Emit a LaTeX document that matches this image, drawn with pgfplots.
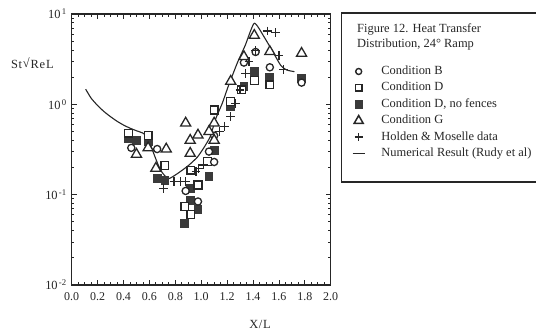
\documentclass[border=0pt]{standalone}
\usepackage{pgfplots}
\pgfplotsset{compat=1.18}
\usepackage{fontspec}
\setmainfont{Liberation Serif}

\definecolor{ink}{HTML}{262626}
\definecolor{solidgray}{HTML}{3A3A3A}

\pgfplotsset{
  markimg/.style={legend image code/.code={%
      \path (-6bp,0bp) (6bp,0bp);
      \draw[##1,only marks] plot coordinates {(0bp,0bp)};}},
  lineimg/.style={legend image code/.code={%
      \path (-6bp,0bp) (6bp,0bp);
      \draw[##1] (-6bp,0bp) -- (6bp,0bp);}},
}
\newcommand{\decade}[1]{10\kern1.2pt\textsuperscript{#1}}

\begin{document}
\begin{tikzpicture}
\useasboundingbox (0bp,0bp) rectangle (536bp,331bp);
\begin{axis}[
  at={(71.7bp,46bp)}, anchor=south west,
  scale only axis, width=259bp, height=271bp,
  ymode=log, xmin=0, xmax=2.0, ymin=0.01, ymax=10,
  axis line style={ink, line width=1.1bp},
  every tick/.style={ink, line width=0.8bp},
  major tick length=5bp, minor tick length=2.6bp,
  tick align=inside,
  xtick={0,0.2,...,2.01},
  xticklabels={0.0,0.2,0.4,0.6,0.8,1.0,1.2,1.4,1.6,1.8,2.0},
  minor x tick num=3,
  ytick={0.01,0.1,1,10},
  yticklabels={\decade{-2},\decade{-1},\decade{0},\decade{1}},
  tick label style={text=ink},
  xticklabel style={font=\fontsize{12}{14}\selectfont, yshift=-4bp},
  yticklabel style={font=\fontsize{12.5}{14}\selectfont, xshift=-1.5bp},
  xlabel={X\kern0.6pt/\kern0.6pt L},
  ylabel={S\kern0.8pt t\kern0.8pt\raisebox{0.5pt}{√}\kern0.8pt R\kern0.8pt e\kern0.8pt L},
  every axis x label/.style={at={(axis description cs:0.727,-0.144)}, anchor=center,
    font=\fontsize{12.5}{14}\selectfont, text=ink},
  every axis y label/.style={at={(axis description cs:-0.152,0.819)}, anchor=center,
    font=\fontsize{12.5}{14}\selectfont, text=ink},
  legend cell align=left,
  legend style={at={(axis description cs:1.0822,0.81)}, anchor=north west,
    draw=none, fill=none, inner sep=0pt, outer sep=0pt,
    row sep=4.4bp, column sep=16bp,
    nodes={inner sep=0pt, text height=9bp, text depth=3bp,
      font=\fontsize{12.5}{14}\selectfont, text=ink}},
]

% Numerical result (Rudy et al)
\addplot[ink, line width=1.1bp, smooth, tension=0.35, no marks, forget plot]
  coordinates {
  (0.108,1.47) (0.15,1.17) (0.20,0.97) (0.25,0.83) (0.30,0.73) (0.35,0.65)
  (0.40,0.59) (0.45,0.545) (0.50,0.51) (0.55,0.48) (0.58,0.44) (0.61,0.35)
  (0.64,0.27) (0.67,0.21) (0.70,0.175) (0.745,0.15) (0.80,0.165) (0.85,0.185)
  (0.906,0.213) (0.97,0.26) (1.02,0.33) (1.07,0.44) (1.11,0.68) (1.163,1.03)
  (1.21,1.6) (1.28,2.9) (1.34,4.5) (1.41,7.9) (1.485,5.6) (1.56,3.67)
  (1.614,2.7) (1.66,2.4) (1.72,2.3)};

% Condition D, no fences (solid squares)
\addplot[only marks, mark=square*, mark size=3.9bp, solidgray,
  mark options={line width=0.9bp, draw=solidgray, fill=solidgray}, forget plot]
  coordinates {
  (0.44,0.42) (0.50,0.40) (0.59,0.39) (0.66,0.15) (0.72,0.145) (0.92,0.117)
  (0.92,0.087) (0.975,0.068) (0.873,0.048) (1.06,0.158) (1.10,0.31)
  (1.228,0.94) (1.33,1.57) (1.41,2.3) (1.53,2.0) (1.775,1.94)};

% Condition D (open squares)
\addplot[only marks, mark=square*, mark size=3.9bp, ink,
  mark options={line width=1.3bp, draw=ink, fill=white}, forget plot]
  coordinates {
  (0.44,0.48) (0.59,0.45) (0.72,0.21) (0.92,0.187) (0.975,0.128)
  (0.873,0.074) (0.92,0.060) (1.05,0.232) (1.10,0.865) (1.228,1.07)
  (1.31,1.45) (1.41,1.83) (1.53,1.64)};

% Condition B (open circles)
\addplot[only marks, mark=*, mark size=3.6bp, ink,
  mark options={line width=1.3bp, draw=ink, fill=white}, forget plot]
  coordinates {
  (0.46,0.33) (0.66,0.32) (0.88,0.11) (0.975,0.084) (1.06,0.30) (1.10,0.23)
  (1.10,0.45) (1.33,2.9) (1.42,3.8) (1.53,2.57) (1.775,1.74)};

% Condition G (open triangles)
\addplot[only marks, mark=triangle*, mark size=5.8bp, ink,
  mark options={line width=1.3bp, draw=ink, fill=white}, forget plot]
  coordinates {
  (0.50,0.28) (0.59,0.33) (0.73,0.32) (0.65,0.196) (0.88,0.62) (0.915,0.40)
  (0.975,0.457) (0.915,0.287) (1.06,0.50) (1.10,0.62) (1.10,0.40)
  (1.228,1.8) (1.33,3.37) (1.41,5.8) (1.53,3.83) (1.775,3.67)};

% Holden & Moselle data
\addplot[only marks, mark=+, mark size=4.4bp, ink,
  mark options={line width=1.3bp}, forget plot]
  coordinates {
  (0.71,0.117) (0.79,0.14) (0.84,0.14) (0.88,0.14) (0.96,0.18) (0.98,0.196)
  (1.02,0.213) (1.14,0.50) (1.18,0.57) (1.228,0.73) (1.266,1.03) (1.30,1.44)
  (1.344,2.2) (1.369,2.97) (1.42,3.95) (1.511,6.5) (1.575,6.2) (1.60,3.5)
  (1.635,2.44)};

% Legend entries
\addlegendimage{markimg, ink, mark=*, mark size=3bp, mark options={line width=1.4bp, draw=ink, fill=white}}
\addlegendentry{Condition B}
\addlegendimage{markimg, ink, mark=square*, mark size=3.3bp, mark options={line width=1.4bp, draw=ink, fill=white}}
\addlegendentry{Condition D}
\addlegendimage{markimg, solidgray, mark=square*, mark size=3.6bp, mark options={draw=solidgray, fill=solidgray}}
\addlegendentry{Condition D, no fences}
\addlegendimage{markimg, ink, mark=triangle*, mark size=5.2bp, mark options={line width=1.5bp, draw=ink, fill=white}}
\addlegendentry{Condition G}
\addlegendimage{markimg, ink, mark=+, mark size=4bp, mark options={line width=1.5bp}}
\addlegendentry{Holden \& Moselle data}
\addlegendimage{lineimg, ink, line width=1.4bp}
\addlegendentry{Numerical Result (Rudy et al)}
\end{axis}

% Caption box
\draw[ink, line width=1.1bp] (341.7bp,149bp) rectangle (545bp,318bp);
\node[anchor=base west, inner sep=0pt, text=ink, font=\fontsize{12.5}{14}\selectfont]
  at (357bp,298.5bp) {Figure 12. Heat Transfer};
\node[anchor=base west, inner sep=0pt, text=ink, font=\fontsize{12.5}{14}\selectfont]
  at (357bp,283.5bp) {Distribution, 24° Ramp};
\end{tikzpicture}
\end{document}
